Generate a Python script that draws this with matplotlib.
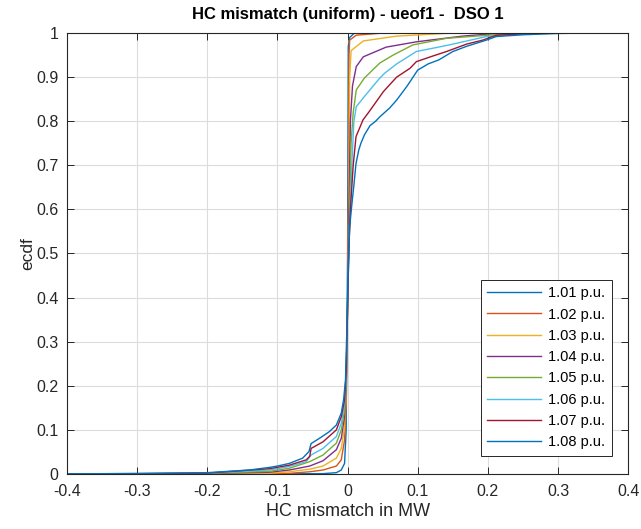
import matplotlib
matplotlib.use("Agg")
import matplotlib.pyplot as plt
import numpy as np

plt.rcParams['font.family'] = ['Liberation Sans', 'DejaVu Sans']

# ecdf curves (x in MW, F = ecdf)
labels = ['1.01 p.u.', '1.02 p.u.', '1.03 p.u.', '1.04 p.u.',
          '1.05 p.u.', '1.06 p.u.', '1.07 p.u.', '1.08 p.u.']

x101 = [-0.45, -0.1, -0.035, -0.016, -0.009, -0.0043, -0.002, 0.0, 0.001, 0.003, 0.01, 0.45]
f101 = [0, 0.0003, 0.0008, 0.003, 0.009, 0.024, 0.1, 0.5, 0.97, 0.99, 1.0, 1.0]

x102 = [-0.45, -0.2, -0.083, -0.054, -0.035, -0.016, -0.009, -0.0043, -0.002, 0.0, 0.001, 0.002, 0.003, 0.0124, 0.05, 0.45]
f102 = [0, 0.0002, 0.0015, 0.005, 0.009, 0.018, 0.032, 0.077, 0.16, 0.4, 0.6, 0.95, 0.984, 0.995, 1.0, 1.0]

x103 = [-0.45, -0.2, -0.111, -0.083, -0.054, -0.035, -0.016, -0.009, -0.0043, -0.002, 0.0, 0.0015, 0.003, 0.005, 0.0224, 0.07, 0.15, 0.45]
f103 = [0, 0.0005, 0.0015, 0.005, 0.011, 0.018, 0.036, 0.058, 0.107, 0.18, 0.38, 0.6, 0.9, 0.96, 0.982, 0.993, 1.0, 1.0]

x104 = [-0.45, -0.3, -0.2, -0.111, -0.083, -0.054, -0.035, -0.016, -0.009, -0.0043, -0.002, 0.0, 0.002, 0.004, 0.007, 0.0124, 0.0224, 0.055, 0.098, 0.164, 0.22, 0.45]
f104 = [0, 0.0003, 0.001, 0.004, 0.009, 0.018, 0.03, 0.055, 0.081, 0.13, 0.2, 0.38, 0.6, 0.8, 0.88, 0.924, 0.946, 0.968, 0.98, 0.993, 1.0, 1.0]

x105 = [-0.45, -0.3, -0.2, -0.111, -0.083, -0.054, -0.035, -0.016, -0.009, -0.0043, -0.002, 0.0, 0.003, 0.005, 0.008, 0.0124, 0.024, 0.046, 0.065, 0.093, 0.141, 0.2, 0.26, 0.45]
f105 = [0, 0.0005, 0.0015, 0.006, 0.013, 0.028, 0.043, 0.07, 0.1, 0.145, 0.21, 0.38, 0.6, 0.75, 0.82, 0.871, 0.898, 0.932, 0.95, 0.973, 0.988, 0.995, 1.0, 1.0]

x106 = [-0.45, -0.3, -0.2, -0.111, -0.083, -0.059, -0.052, -0.035, -0.016, -0.009, -0.0043, -0.002, 0.0, 0.002, 0.004, 0.006, 0.009, 0.0124, 0.024, 0.046, 0.053, 0.07, 0.098, 0.145, 0.198, 0.24, 0.28, 0.45]
f106 = [0, 0.0008, 0.002, 0.009, 0.017, 0.028, 0.043, 0.058, 0.085, 0.115, 0.16, 0.22, 0.38, 0.53, 0.6, 0.7, 0.8, 0.833, 0.856, 0.898, 0.909, 0.93, 0.958, 0.973, 0.992, 0.997, 1.0, 1.0]

x107 = [-0.45, -0.3, -0.2, -0.111, -0.083, -0.059, -0.054, -0.052, -0.035, -0.016, -0.009, -0.0043, -0.002, 0.0, 0.002, 0.004, 0.008, 0.012, 0.022, 0.03, 0.051, 0.07, 0.089, 0.098, 0.12, 0.141, 0.17, 0.193, 0.212, 0.25, 0.3, 0.45]
f107 = [0, 0.001, 0.002, 0.012, 0.020, 0.032, 0.040, 0.058, 0.073, 0.100, 0.130, 0.168, 0.23, 0.38, 0.52, 0.6, 0.7, 0.765, 0.803, 0.82, 0.867, 0.9, 0.92, 0.935, 0.947, 0.958, 0.975, 0.984, 0.995, 0.998, 1.0, 1.0]

x108 = [-0.45, -0.3, -0.2, -0.14, -0.111, -0.1, -0.083, -0.064, -0.055, -0.052, -0.04, -0.026, -0.016, -0.009, -0.0057, -0.003, -0.001, 0.001, 0.003, 0.006, 0.009, 0.012, 0.016, 0.019, 0.024, 0.032, 0.04, 0.046, 0.06, 0.07, 0.085, 0.1, 0.115, 0.13, 0.15, 0.17, 0.198, 0.212, 0.25, 0.3, 0.35, 0.45]
f108 = [0, 0.001, 0.003, 0.009, 0.015, 0.018, 0.024, 0.036, 0.051, 0.069, 0.081, 0.096, 0.111, 0.138, 0.168, 0.213, 0.33, 0.47, 0.56, 0.61, 0.655, 0.704, 0.735, 0.75, 0.769, 0.79, 0.80, 0.81, 0.83, 0.848, 0.88, 0.916, 0.93, 0.939, 0.958, 0.97, 0.984, 0.992, 0.996, 0.999, 1.0, 1.0]

xs = [x101, x102, x103, x104, x105, x106, x107, x108]
fs = [f101, f102, f103, f104, f105, f106, f107, f108]

# matlab default colour order
colors = ['#0072BD', '#D95319', '#EDB120', '#7E2F8E',
          '#77AC30', '#4DBEEE', '#A2142F', '#0072BD']

axcol = '#262626'

fig = plt.figure(figsize=(6.41, 5.29), dpi=100)
ax = fig.add_axes([0.1045, 0.104, 0.8755, 0.8336])

for x, f, c, lab in zip(xs, fs, colors, labels):
    ax.plot(x, f, color=c, lw=1.0, label=lab)

ax.set_xlim(-0.4, 0.4)
ax.set_ylim(0, 1)
ax.set_xticks(np.arange(-0.4, 0.41, 0.1))
ax.set_yticks(np.arange(0, 1.01, 0.1))
ax.set_xticklabels(['-0.4', '-0.3', '-0.2', '-0.1', '0', '0.1', '0.2', '0.3', '0.4'])
ax.set_yticklabels(['0', '0.1', '0.2', '0.3', '0.4', '0.5', '0.6', '0.7', '0.8', '0.9', '1'])

ax.grid(True, color='#dcdcdc', lw=0.8)
ax.set_axisbelow(True)
ax.tick_params(direction='in', length=5, width=0.7, colors=axcol, labelsize=11.5,
               top=True, right=True)
ax.tick_params(axis='x', pad=7.5)
ax.tick_params(axis='y', pad=6)
for sp in ax.spines.values():
    sp.set_color(axcol)
    sp.set_linewidth(0.8)

ax.set_xlabel('HC mismatch in MW', fontsize=13, color=axcol, labelpad=2.5)
ax.set_ylabel('ecdf', fontsize=12.5, color=axcol, labelpad=0.5)
ax.set_title('HC mismatch (uniform) - ueof1 -  DSO 1', fontsize=12,
             fontweight='bold', color='black', pad=10)

leg = ax.legend(loc='lower right', bbox_to_anchor=(0.971, 0.041), fontsize=10.5,
                fancybox=False, edgecolor=axcol, framealpha=1,
                handlelength=3.7, labelspacing=0.5, borderpad=0.45,
                handletextpad=0.5, borderaxespad=0)
leg.get_frame().set_linewidth(0.7)

fig.savefig('out.png', dpi=100)
